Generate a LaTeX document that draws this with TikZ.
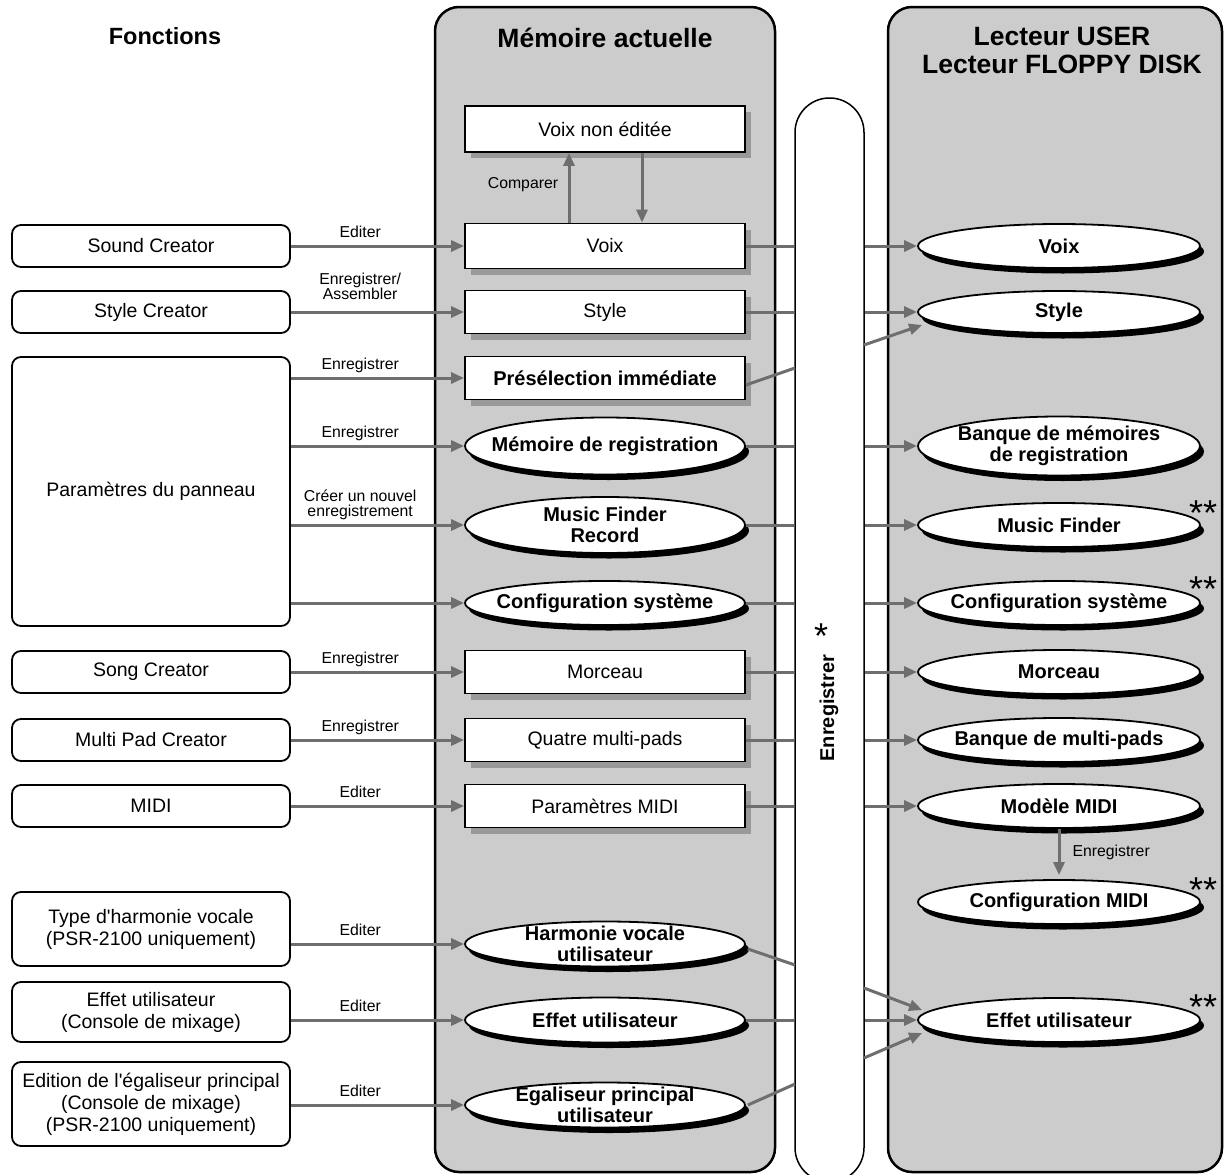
\documentclass[tikz,border=0pt]{standalone}
\usepackage{fontspec}
\setmainfont{Liberation Sans}
\usetikzlibrary{shapes.geometric,shadows,arrows.meta}
\definecolor{panelgray}{HTML}{CCCCCC}
\definecolor{arrgray}{HTML}{6E6E6E}
\definecolor{shadowgray}{HTML}{999999}
\newcommand\fsnorm{\fontsize{19.5}{22}\selectfont}
\newcommand\fsbold{\bfseries\fontsize{20}{21}\selectfont}
\newcommand\fssmall{\fontsize{15.8}{15}\selectfont}
\newcommand\fshead{\bfseries\fontsize{26.5}{28}\selectfont}
\newcommand\fsfunc{\bfseries\fontsize{23.5}{26}\selectfont}
\newcommand\fsstar{\fontsize{36}{36}\selectfont}
\begin{document}
\begin{tikzpicture}[x=1pt,y=-1pt,
  panel/.style={draw=black, line width=2.5pt, fill=panelgray, rounded corners=24pt, inner sep=0pt},
  fbox/.style={draw, line width=1.8pt, rounded corners=9pt, fill=white, minimum width=278pt, align=center, font=\fsnorm, inner sep=0pt},
  mbox/.style={draw, line width=1.8pt, fill=white, minimum width=280pt, minimum height=43pt, inner sep=0pt, font=\fsnorm,
     drop shadow={shadow xshift=6pt, shadow yshift=-6pt, fill=shadowgray, opacity=1}},
  mell/.style={ellipse, draw, line width=1.8pt, fill=white, minimum width=280pt, minimum height=45pt, inner sep=0pt,
     drop shadow={shadow xshift=4pt, shadow yshift=-5.5pt, fill=black, opacity=1}},
  rell/.style={mell, minimum width=282pt, minimum height=44pt},
  elltext/.style={font=\fsbold, align=center, inner sep=0pt},
  conn/.style={draw=arrgray, line width=3pt},
  arr/.style={conn, -{Triangle[length=13pt,width=11pt]}},
  lbl/.style={font=\fssmall, align=center, anchor=south, inner sep=0pt, text depth=3.5pt, yshift=3.5pt},
  star/.style={font=\fsstar, inner sep=0pt, anchor=north}
]
\clip (0,0) rectangle (1227,1175);
\fill[white] (0,0) rectangle (1227,1175);

% panels
\node[panel, minimum width=340pt, minimum height=1165pt] (memPanel) at (605,589.5) {};
\node[panel, minimum width=334pt, minimum height=1165pt] (drvPanel) at (1055,589.5) {};
\node[draw, line width=1.5pt, fill=white, rounded corners=34.4pt, minimum width=69pt, minimum height=1084pt, inner sep=0pt] (pill) at (829.5,640) {};

% headers
\node[font=\fsfunc, inner sep=0pt] (hFunc) at (165,36) {Fonctions};
\node[font=\fshead, inner sep=0pt] (hMem) at (605,38) {Mémoire actuelle};
\node[font=\fshead, inner sep=0pt, align=center] (hDrv) at (1062,50) {Lecteur USER\\Lecteur FLOPPY DISK};

% pill label
\node[font=\fsbold, rotate=90, inner sep=0pt] (pillLabel) at (829,708) {Enregistrer};
\node[star] (pillStar) at (821,624) {*};

% left column
\node[fbox, minimum height=42pt] (fSound) at (151,246) {Sound Creator};
\node[fbox, minimum height=42pt] (fStyle) at (151,312) {Style Creator};
\node[fbox, minimum height=269pt] (fPanel) at (151,491.5) {Paramètres du panneau};
\node[fbox, minimum height=42pt] (fSong) at (151,672) {Song Creator};
\node[fbox, minimum height=42pt] (fMulti) at (151,740) {Multi Pad Creator};
\node[fbox, minimum height=42pt] (fMidi) at (151,806) {MIDI};
\node[fbox, minimum height=74pt] (fHarm) at (151,929) {Type d\textquotesingle harmonie vocale\\(PSR-2100 uniquement)};
\node[fbox, minimum height=60pt] (fEffect) at (151,1012) {Effet utilisateur\\(Console de mixage)};
\node[fbox, minimum height=84pt] (fEq) at (151,1104) {Edition de l\textquotesingle égaliseur principal\\(Console de mixage)\\(PSR-2100 uniquement)};

% middle column
\node[mbox, minimum height=46pt] (mUnedited) at (605,129) {Voix non éditée};
\node[mbox, minimum height=45pt] (mVoice) at (605,246) {Voix};
\node[mbox] (mStyle) at (605,312) {Style};
\node[mbox, font=\fsbold] (mOTS) at (605,378) {Présélection immédiate};
\node[mell, minimum height=57pt, label={[elltext]center:Mémoire de registration}] (mReg) at (605,446) {};
\node[mell, minimum height=56pt, label={[elltext]center:Music Finder\\Record}] (mMF) at (605,525) {};
\node[mell, minimum height=44pt, label={[elltext]center:Configuration système}] (mSys) at (605,603) {};
\node[mbox] (mSong) at (605,672) {Morceau};
\node[mbox] (mPads) at (605,740) {Quatre multi-pads};
\node[mbox] (mMidi) at (605,806) {Paramètres MIDI};
\node[mell, label={[elltext]center:Harmonie vocale\\utilisateur}] (mHarm) at (605,944) {};
\node[mell, label={[elltext]center:Effet utilisateur}] (mEffect) at (605,1020) {};
\node[mell, label={[elltext]center:Egaliseur principal\\utilisateur}] (mEq) at (605,1105) {};

% right column
\node[rell, label={[elltext]center:Voix}] (rVoice) at (1059,246) {};
\node[rell, minimum height=42pt, label={[elltext]center:Style}] (rStyle) at (1059,312) {};
\node[rell, minimum height=59pt, label={[elltext]center:Banque de mémoires\\de registration}] (rReg) at (1059,446) {};
\node[rell, label={[elltext]center:Music Finder}] (rMF) at (1059,525) {};
\node[rell, label={[elltext]center:Configuration système}] (rSys) at (1059,603) {};
\node[rell, label={[elltext]center:Morceau}] (rSong) at (1059,672) {};
\node[rell, label={[elltext]center:Banque de multi-pads}] (rPads) at (1059,740) {};
\node[rell, label={[elltext]center:Modèle MIDI}] (rMidi) at (1059,806) {};
\node[rell, label={[elltext]center:Configuration MIDI}] (rMidiSet) at (1059,902) {};
\node[rell, label={[elltext]center:Effet utilisateur}] (rEffect) at (1059,1020) {};

% double stars
\node[star] (sMF) at (1203,501) {**};
\node[star] (sSys) at (1203,577) {**};
\node[star] (sMidi) at (1203,878) {**};
\node[star] (sEff) at (1203,995) {**};

% compare arrows
\draw[arr] ([xshift=-36pt]mVoice.north) -- ([xshift=-36pt]mUnedited.south);
\draw[arr] ([xshift=37pt]mUnedited.south) -- ([xshift=37pt]mVoice.north);
\node[font=\fssmall, inner sep=0pt] (lblCompare) at (523,185) {Comparer};

% left -> middle
\draw[arr] (fSound.east) -- node[lbl, pos=0.4] {Editer} (mVoice.west);
\draw[arr] (fStyle.east) -- node[lbl, pos=0.4, yshift=4pt] {Enregistrer/\\Assembler} (mStyle.west);
\draw[arr] (fPanel.east |- mOTS.west) -- node[lbl, pos=0.4] {Enregistrer} (mOTS.west);
\draw[arr] (fPanel.east |- mReg.west) -- node[lbl, pos=0.4] {Enregistrer} (mReg.west);
\draw[arr] (fPanel.east |- mMF.west) -- node[lbl, pos=0.4] {Créer un nouvel\\enregistrement} (mMF.west);
\draw[arr] (fPanel.east |- mSys.west) -- (mSys.west);
\draw[arr] (fSong.east) -- node[lbl, pos=0.4] {Enregistrer} (mSong.west);
\draw[arr] (fMulti.east) -- node[lbl, pos=0.4] {Enregistrer} (mPads.west);
\draw[arr] (fMidi.east) -- node[lbl, pos=0.4] {Editer} (mMidi.west);
\draw[arr] (fHarm.east |- mHarm.west) -- node[lbl, pos=0.4] {Editer} (mHarm.west);
\draw[arr] (fEffect.east |- mEffect.west) -- node[lbl, pos=0.4] {Editer} (mEffect.west);
\draw[arr] (fEq.east |- mEq.west) -- node[lbl, pos=0.4] {Editer} (mEq.west);

% middle -> pill -> right (horizontal rows)
\foreach \m/\r in {mVoice/rVoice, mStyle/rStyle, mReg/rReg, mMF/rMF, mSys/rSys, mSong/rSong, mPads/rPads, mMidi/rMidi, mEffect/rEffect}{
  \draw[conn] (\m.east) -- (\m.east -| pill.west);
  \draw[arr] (\m.east -| pill.east) -- (\r.west);
}

% diagonal rows
\coordinate (pOTSin) at (795,368);
\coordinate (pOTSout) at (864,345);
\draw[conn] ([yshift=-7pt]mOTS.east) -- (pOTSin);
\draw[arr] (pOTSout) -- ([shift={(5pt,-13pt)}]rStyle.west);

\coordinate (pHarmIn) at (795,965);
\coordinate (pHarmOut) at (864,988);
\draw[conn] ([shift={(2pt,-5pt)}]mHarm.east) -- (pHarmIn);
\draw[arr] (pHarmOut) -- ([shift={(5pt,10pt)}]rEffect.west);

\coordinate (pEqIn) at (795,1084);
\coordinate (pEqOut) at (864,1058);
\draw[conn] ([xshift=2pt]mEq.east) -- (pEqIn);
\draw[arr] (pEqOut) -- ([shift={(5pt,-13pt)}]rEffect.west);

% Modele MIDI -> Configuration MIDI
\draw[arr] (rMidi.south) -- node[font=\fssmall, anchor=west, inner sep=0pt, xshift=12pt] {Enregistrer} ([yshift=4pt]rMidiSet.north);
\end{tikzpicture}
\end{document}
